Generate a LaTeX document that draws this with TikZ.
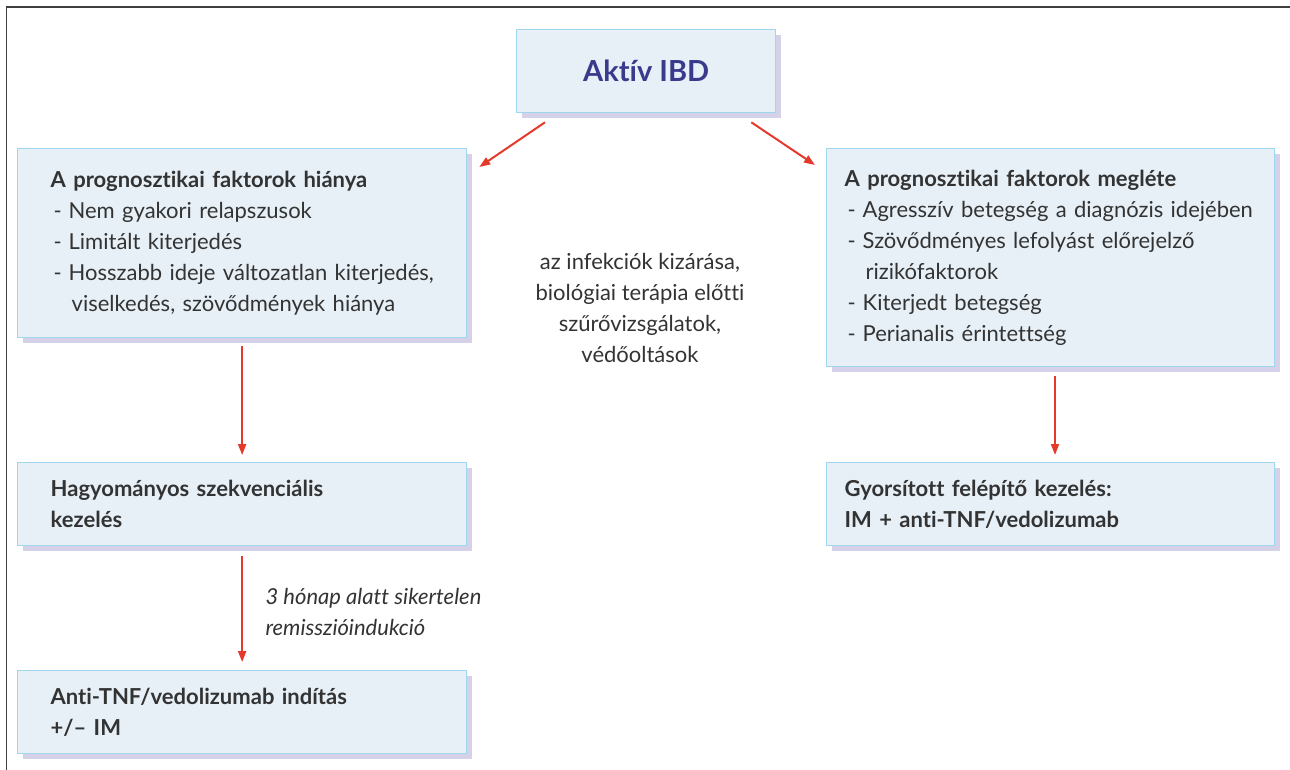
\documentclass[tikz,border=0pt]{standalone}
\usepackage{fontspec}
\setmainfont{Lato}[Ligatures=NoCommon]
\usetikzlibrary{arrows.meta,shadows}
\definecolor{dobozKek}{RGB}{231,240,247}
\definecolor{keretKek}{RGB}{160,214,238}
\definecolor{arnyekLila}{RGB}{212,209,232}
\definecolor{nyilPiros}{RGB}{229,57,44}
\definecolor{cimKek}{RGB}{58,58,140}
\definecolor{szovegSzurke}{RGB}{51,51,51}

\newcommand{\pont}{\makebox[18pt][l]{\hspace{3pt}-}}
\newcommand{\foly}{\hspace*{21pt}}

\begin{document}
\begin{tikzpicture}[
  x=1pt, y=-1pt,
  font=\fontsize{22}{31}\selectfont,
  text=szovegSzurke,
  doboz/.style={
    rectangle,
    draw=keretKek,
    fill=dobozKek,
    line width=1.3pt,
    anchor=north west,
    align=left,
    inner ysep=0pt,
    drop shadow={shadow xshift=5pt, shadow yshift=-5pt, fill=arnyekLila, opacity=1},
  },
  balDoboz/.style={doboz, inner xsep=33pt, text width=383pt, minimum width=449pt},
  jobbDoboz/.style={doboz, inner xsep=18pt, text width=412pt, minimum width=448pt},
  nyil/.style={nyilPiros, line width=2pt, -{Triangle[length=11pt,width=8pt]}},
]

  \useasboundingbox (0,0) rectangle (1290,770);
  \draw[black!75, line width=1.6pt] (6.5,770) -- (6.5,7) -- (1290,7);

  \node[doboz, minimum width=259pt, minimum height=83pt, align=center,
        font=\fontsize{29}{36}\selectfont\bfseries, text=cimKek] (ibd) at (516,29) {Akt\'iv IBD};

  \node[balDoboz, minimum height=189pt] (hiany) at (17,148)
    {\textbf{A prognosztikai faktorok hiánya}\\
     \pont Nem gyakori relapszusok\\
     \pont Limitált kiterjedés\\
     \mbox{\pont Hosszabb ideje változatlan kiterjedés,}\\
     \foly viselkedés, szövődmények hiánya};

  \node[jobbDoboz, minimum height=218pt] (meglete) at (826,148)
    {\textbf{A prognosztikai faktorok megléte}\\
     \mbox{\pont Agresszív betegség a diagnózis idejében}\\
     \pont Szövődményes lefolyást előrejelző\\
     \foly rizikófaktorok\\
     \pont Kiterjedt betegség\\
     \pont Perianalis érintettség};

  \node[balDoboz, minimum height=83pt, font=\fontsize{22}{31}\selectfont\bfseries] (hagy) at (17,462)
    {Hagyományos szekvenciális\\kezelés};

  \node[jobbDoboz, minimum height=83pt, font=\fontsize{22}{31}\selectfont\bfseries] (gyors) at (826,462)
    {Gyorsított felépítő kezelés:\\IM + anti-TNF/vedolizumab};

  \node[balDoboz, minimum height=83pt, font=\fontsize{22}{31}\selectfont\bfseries] (anti) at (17,670)
    {Anti-TNF/vedolizumab indítás\\+/-- IM};

  \node[align=center] (szures) at (640,308)
    {az infekciók kizárása,\\biológiai terápia előtti\\szűrővizsgálatok,\\védőoltások};

  \node[anchor=west, align=left, font=\fontsize{22}{31}\selectfont\itshape] (honap) at (262,612)
    {3 hónap alatt sikertelen\\remisszióindukció};

  \draw[nyil] ([xshift=29pt, yshift=-9pt]ibd.south west) -- ([xshift=12pt, yshift=-19pt]hiany.north east);
  \draw[nyil] ([xshift=-25pt, yshift=-9pt]ibd.south east) -- ([xshift=-11pt, yshift=-17pt]meglete.north west);
  \draw[nyil, shorten <=8pt, shorten >=7pt] (hiany) -- (hagy);
  \draw[nyil, shorten <=9pt, shorten >=7pt] (meglete.south -| 1055,0) -- (gyors.north -| 1055,0);
  \draw[nyil, shorten <=10pt, shorten >=8pt] (hagy) -- (anti);

\end{tikzpicture}
\end{document}
